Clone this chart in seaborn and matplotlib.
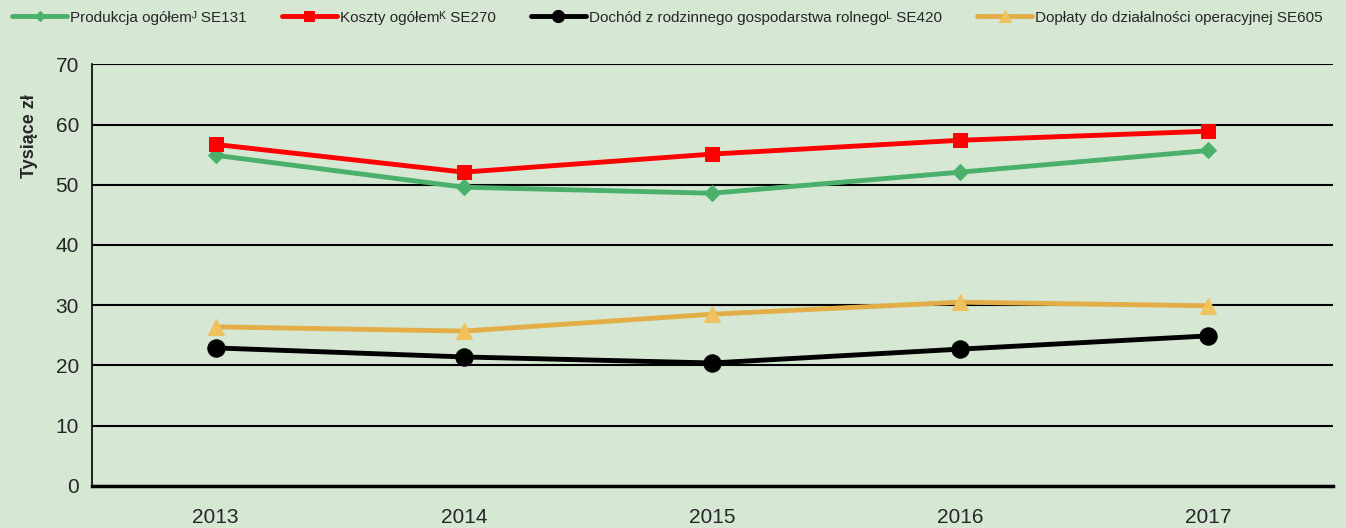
import pandas as pd
import seaborn as sns
import matplotlib.pyplot as plt

years = ["2013", "2014", "2015", "2016", "2017"]
produkcja = [54.9, 49.6, 48.6, 52.1, 55.7]
koszty = [56.7, 52.1, 55.1, 57.4, 58.9]
dochod = [22.9, 21.4, 20.4, 22.7, 24.9]
doplaty = [26.4, 25.7, 28.5, 30.5, 29.9]

series_names = [
    "Produkcja ogółem\u1d36 SE131",
    "Koszty ogółem\u1d37 SE270",
    "Dochód z rodzinnego gospodarstwa rolnego\u1d38 SE420",
    "Dopłaty do działalności operacyjnej SE605",
]
colors = ["#4BB06B", "#FF0000", "#000000", "#E3AE47"]
marker_faces = ["#4BB06B", "#FF0000", "#000000", "#F0C25E"]
markers = ["D", "s", "o", "^"]
marker_sizes = [8, 10, 12.5, 12]

bg = "#D6E8D4"
sns.set_style("white")
plt.rcParams["font.family"] = ["Liberation Sans Narrow", "Liberation Sans", "DejaVu Sans"]

rows = []
for name, vals in zip(series_names, [produkcja, koszty, dochod, doplaty]):
    for i, v in enumerate(vals):
        rows.append({"x": i + 0.5, "value": v, "series": name})
df = pd.DataFrame(rows)

fig, ax = plt.subplots(figsize=(13.46, 5.28), dpi=100)
fig.patch.set_facecolor(bg)
ax.set_facecolor(bg)

for name, col, fc, m, ms in zip(series_names, colors, marker_faces, markers, marker_sizes):
    sub = df[df.series == name]
    sns.lineplot(data=sub, x="x", y="value", ax=ax, color=col, linewidth=3.5,
                 marker=m, markersize=ms, markerfacecolor=fc, markeredgecolor=fc,
                 label=name, zorder=3)

ax.set_xlim(0, 5)
ax.set_ylim(0, 70)
ax.set_yticks(range(0, 71, 10))
ax.set_xticks(range(0, 6))
ax.set_xticklabels([])
ax.set_xticks([i + 0.5 for i in range(5)], minor=True)
ax.set_xticklabels(years, minor=True)
ax.tick_params(axis="x", which="major", length=8, width=1.2, color="black", direction="out")
ax.tick_params(axis="x", which="minor", length=0, labelsize=15, pad=16)
ax.tick_params(axis="y", length=8, width=1.2, color="black", labelsize=15, pad=1)
ax.yaxis.grid(True, color="black", linewidth=1.5)
ax.set_axisbelow(True)
for s in ["top", "right"]:
    ax.spines[s].set_visible(False)
ax.spines["left"].set_linewidth(1.2)
ax.spines["bottom"].set_linewidth(2.5)
ax.spines["left"].set_color("black")
ax.spines["bottom"].set_color("black")

ax.set_xlabel("")
ax.set_ylabel("Tysiące zł", fontsize=13, fontweight="bold")
ax.yaxis.set_label_coords(-0.0435, 0.83)

ax.legend(loc="center left", bbox_to_anchor=(-0.069, 1.111), ncol=4, frameon=False,
          fontsize=11, handlelength=3.6, columnspacing=2.3, handletextpad=0.2,
          borderaxespad=0, markerscale=0.7)

fig.subplots_adjust(left=0.068, right=0.99, top=0.878, bottom=0.08)
fig.savefig("out.png", dpi=100, facecolor=bg)
